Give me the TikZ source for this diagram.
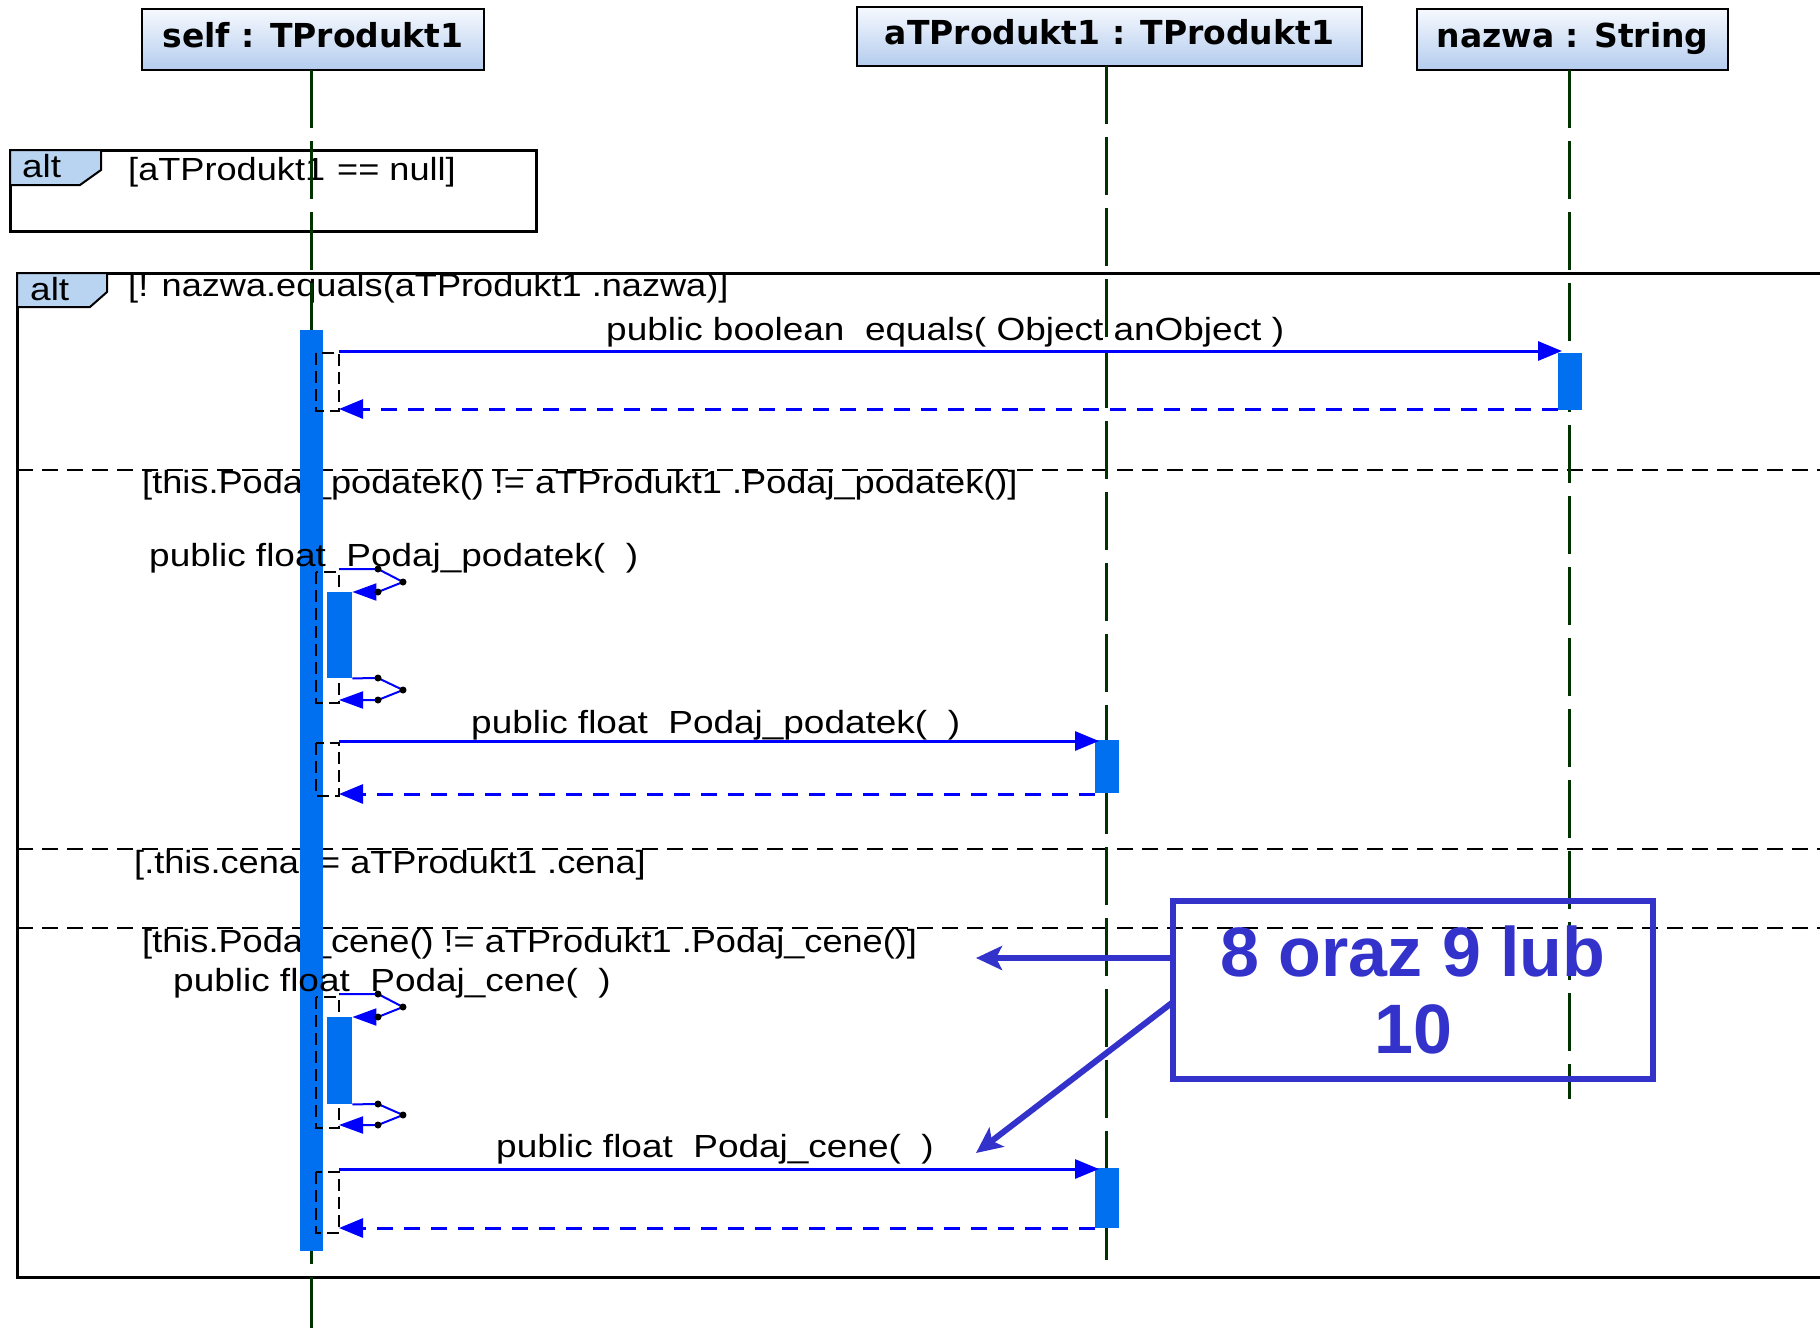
\documentclass[tikz,border=0pt]{standalone}
\usepackage{fontspec}
\setmainfont{Liberation Sans}
\newfontfamily\msgfont[FakeStretch=1.155]{Liberation Sans}
\newfontfamily\grdfont[FakeStretch=1.13]{Liberation Sans}
\newfontfamily\hdrfont{DejaVu Sans}
\usetikzlibrary{arrows.meta}
\definecolor{lifegreen}{RGB}{0,51,0}
\definecolor{actblue}{RGB}{0,112,240}
\definecolor{msgblue}{RGB}{0,0,255}
\definecolor{noteblue}{RGB}{51,51,204}
\definecolor{tabblue}{RGB}{184,212,240}
\definecolor{hdrtop}{RGB}{246,249,254}
\definecolor{hdrbot}{RGB}{180,204,238}
\begin{document}
\begin{tikzpicture}[x=1pt,y=-1pt,
  hdr/.style={draw=black, line width=2.5pt, top color=hdrtop, bottom color=hdrbot, inner sep=0pt, text depth=9pt, font=\hdrfont\bfseries\fontsize{33pt}{40pt}\selectfont},
  lifeline/.style={draw=lifegreen, line width=3pt, dash pattern=on 58pt off 13pt},
  frame/.style={draw=black, line width=3pt},
  tab/.style={fill=tabblue, draw=black, line width=2pt},
  sepline/.style={draw=black, line width=2pt, dash pattern=on 16pt off 9pt},
  txt/.style={anchor=base west, inner sep=0pt, font=\msgfont\fontsize{32pt}{38pt}\selectfont},
  grd/.style={anchor=base west, inner sep=0pt, font=\grdfont\fontsize{32pt}{38pt}\selectfont},
  act/.style={fill=actblue, draw=none, inner sep=0pt, anchor=north west},
  brk/.style={draw=black, line width=2pt, dash pattern=on 12pt off 6pt},
  msg/.style={draw=msgblue, line width=3pt, -{Triangle[length=24pt,width=19pt]}},
  ret/.style={draw=msgblue, line width=3pt, dash pattern=on 16pt off 11pt, -{Triangle[length=24pt,width=19pt]}},
  selfmsg/.style={draw=msgblue, line width=2pt, -{Triangle[length=24pt,width=17pt]}},
  notearrow/.style={draw=noteblue, line width=6pt, -{Stealth[length=26pt,width=24pt,inset=6pt]}}]
\useasboundingbox (0,0) rectangle (1820,1328);
\fill[white] (0,0) rectangle (1820,1328);

% headers
\node[hdr, minimum width=342pt, minimum height=61pt] (self) at (313,39.5) {self : TProdukt1};
\node[hdr, minimum width=505pt, minimum height=59pt] (aprod) at (1109.5,36.5) {aTProdukt1 : TProdukt1};
\node[hdr, minimum width=311pt, minimum height=61pt] (nazwa) at (1572.5,39.5) {nazwa : String};

% frames
\draw[frame] (10,150) rectangle (536,231);
\filldraw[tab] (10,150) -- (101,150) -- (101,170) -- (80,185) -- (10,185) -- cycle;
\node[txt] (alt1) at (22,177) {alt};
\node[grd] (g1) at (128,180) {[aTProdukt1\hspace{12pt}== null]};

\draw[frame] (1822,273) -- (17,273) -- (17,1277) -- (1822,1277);
\filldraw[tab] (17,273) -- (107,273) -- (107,292) -- (90,307) -- (17,307) -- cycle;
\node[txt] (alt2) at (30,300) {alt};
\node[grd] (g2) at (128,296) {[! nazwa.equals(aTProdukt1 .nazwa)]};

\draw[sepline] (17,470) -- (1822,470);
\draw[sepline] (17,849) -- (1822,849);
\draw[sepline] (17,928) -- (1822,928);
\node[grd] (g3) at (142,493) {[this.Podaj\_podatek() != aTProdukt1 .Podaj\_podatek()]};
\node[grd] (g4) at (134,873) {[.this.cena != aTProdukt1 .cena]};
\node[grd] (g5) at (142,952) {[this.Podaj\_cene() != aTProdukt1 .Podaj\_cene()]};

% lifelines
\coordinate (selfEnd) at (311,1328);
\coordinate (aprodEnd) at (1106,1260);
\coordinate (nazwaEnd) at (1569,1099);
\draw[lifeline] (311,70) -- (selfEnd);
\draw[lifeline] (1106,66) -- (aprodEnd);
\draw[lifeline] (1569,70) -- (nazwaEnd);

% activations
\node[act, minimum width=23pt, minimum height=921pt] (selfAct) at (300,330) {};
\node[act, minimum width=24pt, minimum height=57pt] (nzAct) at (1558,353) {};
\node[act, minimum width=24pt, minimum height=53pt] (aAct1) at (1095,740) {};
\node[act, minimum width=24pt, minimum height=60pt] (aAct2) at (1095,1168) {};

% brackets
\draw[brk] (316,353) rectangle (339,411);
\draw[brk] (316,572) rectangle (339,703);
\draw[brk] (316,743) rectangle (339,796);
\draw[brk] (316,997) rectangle (339,1128);
\draw[brk] (316,1172) rectangle (339,1233);

\node[act, minimum width=25pt, minimum height=86pt] (inner1) at (327,592) {};
\node[act, minimum width=25pt, minimum height=87pt] (inner2) at (327,1017) {};

% message 1
\coordinate (m1s) at (339,351); \coordinate (m1e) at (1562,351);
\coordinate (r1s) at (1558,409); \coordinate (r1e) at (339,409);
\draw[msg] (m1s) -- (m1e);
\draw[ret] (r1s) -- (r1e);
\node[txt] (l1) at (606,340) {public boolean\ \ equals( Object anObject )};

% self call 1
\node[txt] (l2) at (149,566) {public float\ \ Podaj\_podatek(\ \ )};
\draw[selfmsg] (339,569) -- (378,569) -- (403,582) -- (378,592) -- (inner1.north east);
\draw[selfmsg] (inner1.south east) -- (378,678) -- (403,690) -- (378,700) -- (339,700);
\foreach \p in {(378,569),(403,582),(378,592),(378,678),(403,690),(378,700)} \fill[black] \p circle (3.5pt);

% message 2
\coordinate (m2s) at (339,741); \coordinate (m2e) at (1099,741);
\coordinate (r2s) at (1095,794); \coordinate (r2e) at (339,794);
\draw[msg] (m2s) -- (m2e);
\draw[ret] (r2s) -- (r2e);
\node[txt] (l3) at (471,733) {public float\ \ Podaj\_podatek(\ \ )};

% self call 2
\node[txt] (l4) at (173,991) {public float\ \ Podaj\_cene(\ \ )};
\draw[selfmsg] (339,994) -- (378,994) -- (403,1007) -- (378,1017) -- (inner2.north east);
\draw[selfmsg] (inner2.south east) -- (378,1104) -- (403,1115) -- (378,1125) -- (339,1125);
\foreach \p in {(378,994),(403,1007),(378,1017),(378,1104),(403,1115),(378,1125)} \fill[black] \p circle (3.5pt);

% message 3
\coordinate (m3s) at (339,1169); \coordinate (m3e) at (1099,1169);
\coordinate (r3s) at (1095,1228); \coordinate (r3e) at (339,1228);
\draw[msg] (m3s) -- (m3e);
\draw[ret] (r3s) -- (r3e);
\node[txt] (l5) at (496,1157) {public float\ \ Podaj\_cene(\ \ )};

% note
\node[draw=noteblue, line width=6pt, minimum width=480pt, minimum height=178pt, inner sep=0pt,
  align=center, text=noteblue, font=\bfseries\fontsize{70pt}{77pt}\selectfont] (note) at (1413,990) {8 oraz 9 lub\\10};
\coordinate (n1) at (976,958);
\coordinate (n2) at (976,1153);
\draw[notearrow] (note.west |- n1) -- (n1);
\draw[notearrow] (1173,1002) -- (n2);
\end{tikzpicture}
\end{document}
